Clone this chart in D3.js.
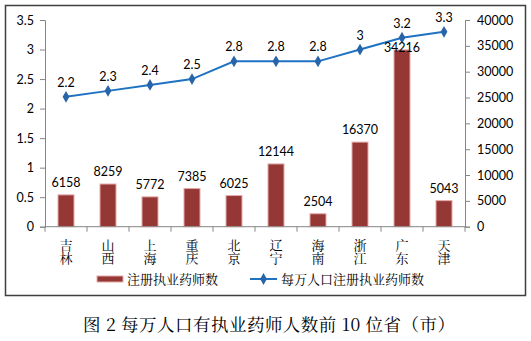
<!DOCTYPE html>
<html>
<head>
<meta charset="utf-8">
<script src="https://cdn.jsdelivr.net/npm/d3@7"></script>
<style>
  html, body { margin: 0; padding: 0; background: #fff; }
  svg { display: block; }
</style>
</head>
<body>
<svg id="chart" width="531" height="341"></svg>
<script>
const categories = ["吉林", "山西", "上海", "重庆", "北京", "辽宁", "海南", "浙江", "广东", "天津"];
const pharmacists = [6158, 8259, 5772, 7385, 6025, 12144, 2504, 16370, 34216, 5043];
const perTenThousand = [2.2, 2.3, 2.4, 2.5, 2.8, 2.8, 2.8, 3, 3.2, 3.3];
const leftTicks = [0, 0.5, 1, 1.5, 2, 2.5, 3, 3.5];
const rightTicks = [0, 5000, 10000, 15000, 20000, 25000, 30000, 35000, 40000];
const barSeriesName = "注册执业药师数";
const lineSeriesName = "每万人口注册执业药师数";
const caption = "图 2 每万人口有执业药师人数前 10 位省（市）";

const svg = d3.select("#chart");
const numFont = "Lato, 'Open Sans', sans-serif";
const cjkFont = "'Noto Serif CJK SC', 'Noto Sans CJK SC', serif";

const plot = { left: 45, right: 465, top: 20, bottom: 226.7 };

// outer frame
svg.append("rect")
  .attr("x", 5.5).attr("y", 5.5).attr("width", 520).attr("height", 290)
  .attr("fill", "none").attr("stroke", "#3f3f3f").attr("stroke-width", 1.5);

const x = d3.scaleBand().domain(categories).range([plot.left, plot.right]).paddingInner(0).paddingOuter(0);
const yL = d3.scaleLinear().domain([0, 3.5]).range([plot.bottom, plot.top]);
const yR = d3.scaleLinear().domain([0, 40000]).range([plot.bottom, plot.top]);

// Left axis
const gL = svg.append("g").attr("transform", `translate(${plot.left},0)`)
  .call(d3.axisLeft(yL).tickValues(leftTicks).tickSize(5).tickPadding(6).tickFormat(d => d3.format("")(d)));
gL.select(".domain").attr("stroke", "#868686");
gL.selectAll(".tick line").attr("stroke", "#868686");
gL.selectAll(".tick text").attr("font-family", numFont).attr("font-size", 12.5).attr("fill", "#000");

// Right axis
const gR = svg.append("g").attr("transform", `translate(${plot.right},0)`)
  .call(d3.axisRight(yR).tickValues(rightTicks).tickSize(5).tickPadding(7).tickFormat(d3.format("")));
gR.select(".domain").attr("stroke", "#868686");
gR.selectAll(".tick line").attr("stroke", "#868686");
gR.selectAll(".tick text").attr("font-family", numFont).attr("font-size", 12.5).attr("fill", "#000");

// Bars
svg.append("g").selectAll("rect").data(categories).join("rect")
  .attr("x", d => x(d) + x.bandwidth() / 2 - 8)
  .attr("width", 16)
  .attr("y", (d, i) => yR(pharmacists[i]))
  .attr("height", (d, i) => plot.bottom - yR(pharmacists[i]))
  .attr("fill", "#953735")
  .attr("stroke", "#e3aaa9")
  .attr("stroke-width", 1);

// Bottom axis (category boundaries)
const gB = svg.append("g").attr("transform", `translate(0,${plot.bottom})`);
gB.append("line").attr("x1", plot.left).attr("x2", plot.right).attr("y1", 0).attr("y2", 0)
  .attr("stroke", "#868686");
const bounds = categories.map(c => x(c)).concat([plot.right]);
gB.selectAll("line.tk").data(bounds).join("line").attr("class", "tk")
  .attr("x1", d => d).attr("x2", d => d).attr("y1", 0).attr("y2", 5)
  .attr("stroke", "#868686");

// Category labels (vertical text)
svg.append("g").selectAll("text").data(categories).join("text")
  .attr("x", d => x(d) + x.bandwidth() / 2)
  .attr("y", 251.5)
  .attr("text-anchor", "middle")
  .style("writing-mode", "vertical-rl")
  .attr("font-family", cjkFont).attr("font-size", 13).attr("fill", "#000")
  .text(d => d);

// Line
const line = d3.line().x((d, i) => x(categories[i]) + x.bandwidth() / 2).y(d => yL(d));
svg.append("path").datum(perTenThousand).attr("d", line)
  .attr("fill", "none").attr("stroke", "#1f72c2").attr("stroke-width", 2);

const diamond = d3.symbol().type(d3.symbolDiamond).size(40);
svg.append("g").selectAll("path").data(perTenThousand).join("path")
  .attr("transform", (d, i) => `translate(${x(categories[i]) + x.bandwidth() / 2},${yL(d)})`)
  .attr("d", diamond)
  .attr("fill", "#2765a8");

// Line value labels
svg.append("g").selectAll("text").data(perTenThousand).join("text")
  .attr("x", (d, i) => x(categories[i]) + x.bandwidth() / 2)
  .attr("y", d => yL(d) - 10)
  .attr("text-anchor", "middle")
  .attr("font-family", numFont).attr("font-size", 12.5).attr("fill", "#000")
  .text(d => d);

// Bar value labels (kept below the line labels where they would collide)
svg.append("g").selectAll("text").data(pharmacists).join("text")
  .attr("x", (d, i) => x(categories[i]) + x.bandwidth() / 2)
  .attr("y", (d, i) => Math.max(yR(d) - 8, yL(perTenThousand[i]) + 14))
  .attr("text-anchor", "middle")
  .attr("font-family", numFont).attr("font-size", 12.5).attr("fill", "#000")
  .text(d => d);

// Legend
const lg = svg.append("g");
lg.append("rect").attr("x", 97).attr("y", 276).attr("width", 26).attr("height", 6)
  .attr("fill", "#953735").attr("stroke", "#e3aaa9").attr("stroke-width", 1);
lg.append("text").attr("x", 127).attr("y", 283.5).attr("font-family", cjkFont).attr("font-size", 13)
  .attr("fill", "#000").text(barSeriesName);
lg.append("line").attr("x1", 250).attr("x2", 277).attr("y1", 279).attr("y2", 279)
  .attr("stroke", "#1f72c2").attr("stroke-width", 2);
lg.append("path").attr("transform", "translate(263.5,279)").attr("d", diamond).attr("fill", "#2765a8");
lg.append("text").attr("x", 281).attr("y", 283.5).attr("font-family", cjkFont).attr("font-size", 13)
  .attr("fill", "#000").text(lineSeriesName);

// Caption
svg.append("text").attr("x", 83).attr("y", 331)
  .attr("textLength", 372).attr("lengthAdjust", "spacing")
  .attr("font-family", cjkFont).attr("font-size", 17.5).attr("fill", "#000")
  .text(caption);
</script>
</body>
</html>
